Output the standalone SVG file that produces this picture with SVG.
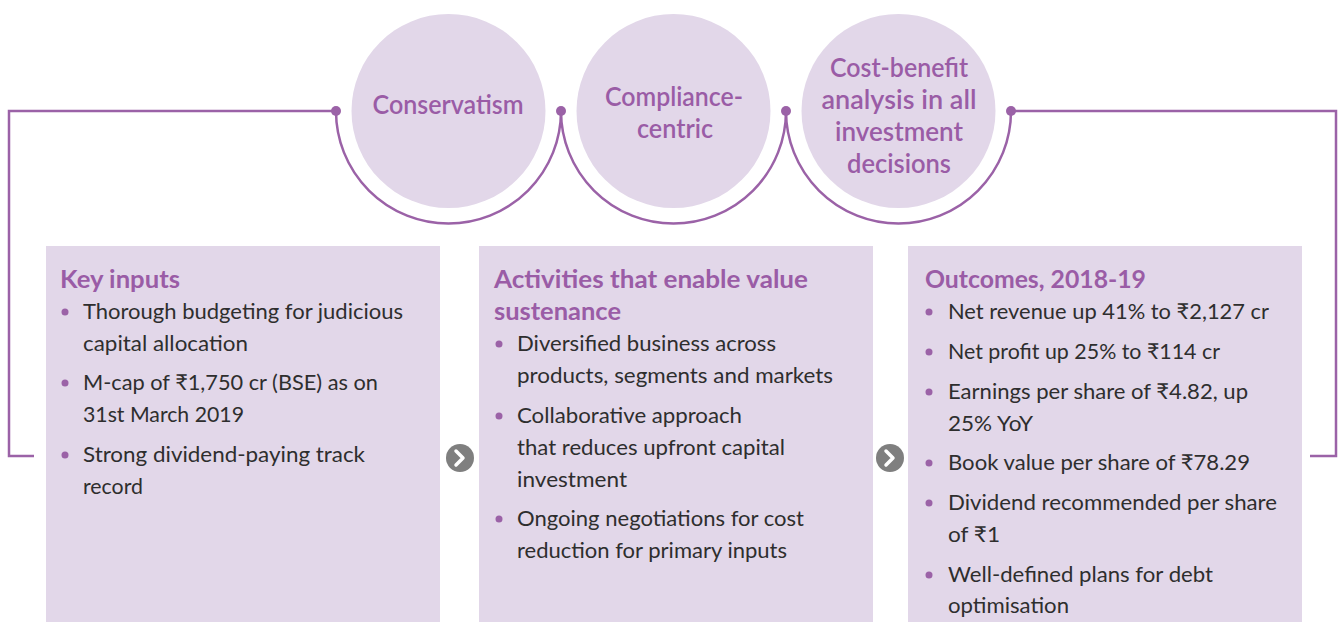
<svg xmlns="http://www.w3.org/2000/svg" width="1343" height="622" viewBox="0 0 1343 622">
<style>
.bg{fill:#ffffff}
.circ{fill:#e2d7e9}
.box{fill:#e2d7e9}
.ct{font-family:Lato,"Noto Sans","DejaVu Sans",sans-serif;font-size:26px;font-weight:600;fill:#9a5ca6;text-anchor:middle}
.ttl{font-family:Lato,"Noto Sans","DejaVu Sans",sans-serif;font-size:25px;font-weight:700;fill:#9a5ca6}
.bd{font-family:Lato,"Noto Sans","DejaVu Sans",sans-serif;font-size:22px;fill:#2e2e2e}
.ln{fill:none;stroke:#9b62a7;stroke-width:2.5}
.dot{fill:#9b62a7}
.bul{fill:#9b62a7}
.arr{fill:#7f7f7f}
.chev{fill:none;stroke:#ffffff;stroke-width:3.5;stroke-linecap:round;stroke-linejoin:round}
</style>
<rect class="bg" x="0" y="0" width="1343" height="622"/>

<g id="connectors">
<path class="ln" d="M336,111 H9 V456 H34"/>
<path class="ln" d="M1011,111 H1336 V456 H1310"/>
<path class="ln" d="M336,111 A112.5,112.5 0 0 0 561,111"/>
<path class="ln" d="M561,111 A112.5,112.5 0 0 0 786,111"/>
<path class="ln" d="M786,111 A112.5,112.5 0 0 0 1011,111"/>
<circle class="dot" cx="336" cy="111" r="5"/>
<circle class="dot" cx="561" cy="111" r="5"/>
<circle class="dot" cx="786" cy="111" r="5"/>
<circle class="dot" cx="1011" cy="111" r="5"/>
<g id="arrow1"><circle class="arr" cx="460" cy="458" r="14"/><path class="chev" d="M456,451 L463,458 L456,465"/></g>
<g id="arrow2"><circle class="arr" cx="890" cy="458" r="14"/><path class="chev" d="M886,451 L893,458 L886,465"/></g>
</g>

<g id="node-conservatism">
<circle class="circ" cx="448.5" cy="111" r="97"/>
<text class="ct" x="448" y="114" textLength="151" lengthAdjust="spacingAndGlyphs">Conservatism</text>
</g>
<g id="node-compliance">
<circle class="circ" cx="673.5" cy="111" r="97"/>
<text class="ct" x="674" y="106" textLength="138" lengthAdjust="spacingAndGlyphs">Compliance-</text>
<text class="ct" x="675" y="138" textLength="76" lengthAdjust="spacingAndGlyphs">centric</text>
</g>
<g id="node-costbenefit">
<circle class="circ" cx="898.5" cy="111" r="97"/>
<text class="ct" x="899" y="77" textLength="138" lengthAdjust="spacingAndGlyphs">Cost-benefit</text>
<text class="ct" x="899" y="109" textLength="155" lengthAdjust="spacingAndGlyphs">analysis in all</text>
<text class="ct" x="899" y="141" textLength="128" lengthAdjust="spacingAndGlyphs">investment</text>
<text class="ct" x="899" y="173" textLength="104" lengthAdjust="spacingAndGlyphs">decisions</text>
</g>

<g id="node-key-inputs">
<rect class="box" x="46" y="246" width="394" height="376"/>
<text class="ttl" x="60" y="288" textLength="120" lengthAdjust="spacingAndGlyphs">Key inputs</text>
<circle class="bul" cx="65" cy="312" r="3.5"/>
<text class="bd" x="83" y="319" textLength="320" lengthAdjust="spacingAndGlyphs">Thorough budgeting for judicious</text>
<text class="bd" x="83" y="351" textLength="165" lengthAdjust="spacingAndGlyphs">capital allocation</text>
<circle class="bul" cx="65" cy="383" r="3.5"/>
<text class="bd" x="83" y="390" textLength="295" lengthAdjust="spacingAndGlyphs">M-cap of ₹1,750 cr (BSE) as on</text>
<text class="bd" x="83" y="422" textLength="161" lengthAdjust="spacingAndGlyphs">31st March 2019</text>
<circle class="bul" cx="65" cy="455" r="3.5"/>
<text class="bd" x="83" y="462" textLength="282" lengthAdjust="spacingAndGlyphs">Strong dividend-paying track</text>
<text class="bd" x="83" y="494" textLength="60" lengthAdjust="spacingAndGlyphs">record</text>
</g>

<g id="node-activities">
<rect class="box" x="479" y="246" width="394" height="376"/>
<text class="ttl" x="494" y="288" textLength="314" lengthAdjust="spacingAndGlyphs">Activities that enable value</text>
<text class="ttl" x="494" y="320" textLength="127" lengthAdjust="spacingAndGlyphs">sustenance</text>
<circle class="bul" cx="499" cy="344" r="3.5"/>
<text class="bd" x="517" y="351" textLength="259" lengthAdjust="spacingAndGlyphs">Diversified business across</text>
<text class="bd" x="517" y="383" textLength="316" lengthAdjust="spacingAndGlyphs">products, segments and markets</text>
<circle class="bul" cx="499" cy="416" r="3.5"/>
<text class="bd" x="517" y="423" textLength="225" lengthAdjust="spacingAndGlyphs">Collaborative approach</text>
<text class="bd" x="517" y="455" textLength="268" lengthAdjust="spacingAndGlyphs">that reduces upfront capital</text>
<text class="bd" x="517" y="487" textLength="110" lengthAdjust="spacingAndGlyphs">investment</text>
<circle class="bul" cx="499" cy="519" r="3.5"/>
<text class="bd" x="517" y="526" textLength="287" lengthAdjust="spacingAndGlyphs">Ongoing negotiations for cost</text>
<text class="bd" x="517" y="558" textLength="270" lengthAdjust="spacingAndGlyphs">reduction for primary inputs</text>
</g>

<g id="node-outcomes">
<rect class="box" x="908" y="246" width="394" height="376"/>
<text class="ttl" x="925" y="288" textLength="221" lengthAdjust="spacingAndGlyphs">Outcomes, 2018-19</text>
<circle class="bul" cx="929" cy="312" r="3.5"/>
<text class="bd" x="948" y="319" textLength="321" lengthAdjust="spacingAndGlyphs">Net revenue up 41% to ₹2,127 cr</text>
<circle class="bul" cx="929" cy="352" r="3.5"/>
<text class="bd" x="948" y="359" textLength="272" lengthAdjust="spacingAndGlyphs">Net profit up 25% to ₹114 cr</text>
<circle class="bul" cx="929" cy="392" r="3.5"/>
<text class="bd" x="948" y="399" textLength="300" lengthAdjust="spacingAndGlyphs">Earnings per share of ₹4.82, up</text>
<text class="bd" x="948" y="431" textLength="85" lengthAdjust="spacingAndGlyphs">25% YoY</text>
<circle class="bul" cx="929" cy="463" r="3.5"/>
<text class="bd" x="948" y="470" textLength="302" lengthAdjust="spacingAndGlyphs">Book value per share of ₹78.29</text>
<circle class="bul" cx="929" cy="503" r="3.5"/>
<text class="bd" x="948" y="510" textLength="329" lengthAdjust="spacingAndGlyphs">Dividend recommended per share</text>
<text class="bd" x="948" y="542" textLength="52" lengthAdjust="spacingAndGlyphs">of ₹1</text>
<circle class="bul" cx="929" cy="575" r="3.5"/>
<text class="bd" x="948" y="582" textLength="265" lengthAdjust="spacingAndGlyphs">Well-defined plans for debt</text>
<text class="bd" x="948" y="613" textLength="121" lengthAdjust="spacingAndGlyphs">optimisation</text>
</g>
</svg>
